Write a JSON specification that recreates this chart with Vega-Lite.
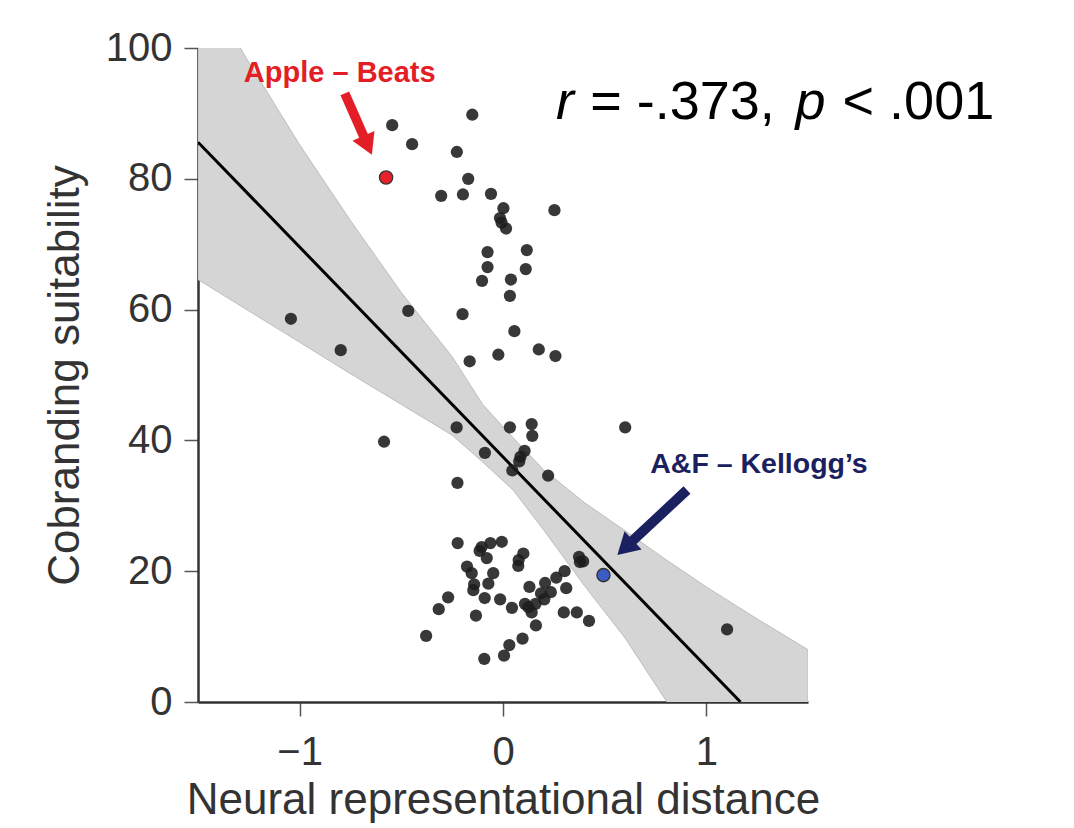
{
  "$schema": "https://vega.github.io/schema/vega-lite/v6.json",
  "width": 610,
  "height": 654,
  "autosize": {"type": "none"},
  "padding": {"left": 198, "top": 48, "right": 266, "bottom": 126},
  "background": "white",
  "config": {
    "view": {"stroke": null},
    "font": "Liberation Sans",
    "axis": {
      "grid": false,
      "domainColor": "#333333",
      "domainWidth": 2.5,
      "tickColor": "#555555",
      "tickWidth": 1.5,
      "tickSize": 14,
      "labelFont": "Liberation Sans",
      "labelFontSize": 40,
      "labelColor": "#333333",
      "labelFlush": false,
      "labelOverlap": false,
      "titleFont": "Liberation Sans",
      "titleFontSize": 44,
      "titleFontWeight": "normal",
      "titleColor": "#333333"
    }
  },
  "datasets": {
    "pts": [
      {"x": -0.151, "y": 89.8}, {"x": -0.545, "y": 88.2}, {"x": -0.447, "y": 85.3}, {"x": -0.227, "y": 84.1},
      {"x": -0.171, "y": 80.0}, {"x": -0.304, "y": 77.4}, {"x": -0.197, "y": 77.6}, {"x": -0.059, "y": 77.7},
      {"x": 0.002, "y": 75.5}, {"x": 0.253, "y": 75.2}, {"x": -0.015, "y": 74.0}, {"x": -0.007, "y": 73.3},
      {"x": 0.015, "y": 72.4}, {"x": -0.076, "y": 68.8}, {"x": 0.117, "y": 69.1}, {"x": -0.076, "y": 66.5},
      {"x": 0.112, "y": 66.2}, {"x": -0.103, "y": 64.4}, {"x": 0.039, "y": 64.6}, {"x": 0.034, "y": 62.1},
      {"x": -1.043, "y": 58.6}, {"x": -0.466, "y": 59.8}, {"x": -0.199, "y": 59.3}, {"x": 0.056, "y": 56.7},
      {"x": -0.798, "y": 53.8}, {"x": -0.164, "y": 52.1}, {"x": -0.023, "y": 53.1}, {"x": 0.176, "y": 53.9},
      {"x": 0.258, "y": 52.9},
      {"x": 0.601, "y": 42.0}, {"x": -0.228, "y": 42.0}, {"x": 0.034, "y": 42.0}, {"x": 0.141, "y": 42.5},
      {"x": 0.144, "y": 40.7}, {"x": -0.585, "y": 39.8}, {"x": -0.089, "y": 38.1}, {"x": 0.106, "y": 38.4},
      {"x": 0.086, "y": 37.5}, {"x": 0.080, "y": 36.8}, {"x": 0.046, "y": 35.4}, {"x": 0.222, "y": 34.6},
      {"x": -0.224, "y": 33.5},
      {"x": -0.223, "y": 24.3}, {"x": -0.105, "y": 23.7}, {"x": -0.115, "y": 23.1}, {"x": -0.062, "y": 24.3},
      {"x": -0.006, "y": 24.5}, {"x": -0.080, "y": 22.0}, {"x": 0.100, "y": 22.7}, {"x": 0.077, "y": 21.7},
      {"x": 0.075, "y": 20.8}, {"x": 0.374, "y": 22.2}, {"x": 0.394, "y": 21.5}, {"x": 0.378, "y": 21.4},
      {"x": -0.177, "y": 20.7}, {"x": -0.154, "y": 19.7}, {"x": -0.048, "y": 19.7}, {"x": -0.072, "y": 18.1},
      {"x": -0.142, "y": 18.0}, {"x": -0.146, "y": 17.1}, {"x": 0.303, "y": 20.0}, {"x": 0.262, "y": 19.0},
      {"x": 0.207, "y": 18.2}, {"x": 0.130, "y": 17.6}, {"x": 0.311, "y": 17.4}, {"x": 0.235, "y": 16.8},
      {"x": 0.187, "y": 16.6}, {"x": 0.203, "y": 15.7}, {"x": -0.270, "y": 16.0}, {"x": -0.090, "y": 15.9},
      {"x": -0.014, "y": 15.7}, {"x": 0.044, "y": 14.4}, {"x": 0.108, "y": 15.0}, {"x": 0.125, "y": 14.5},
      {"x": 0.160, "y": 15.0}, {"x": 0.141, "y": 13.7}, {"x": -0.316, "y": 14.2}, {"x": -0.133, "y": 13.2},
      {"x": 0.299, "y": 13.7}, {"x": 0.363, "y": 13.7}, {"x": 0.423, "y": 12.4}, {"x": 0.162, "y": 11.7},
      {"x": -0.378, "y": 10.1}, {"x": 0.096, "y": 9.7}, {"x": 0.031, "y": 8.7}, {"x": 0.005, "y": 7.1},
      {"x": -0.092, "y": 6.6}, {"x": 1.102, "y": 11.1}
    ],
    "hl": [
      {"x": -0.575, "y": 80.2, "pair": "Apple – Beats"},
      {"x": 0.494, "y": 19.4, "pair": "A&F – Kellogg’s"}
    ],
    "band": [
      {"x": -1.5, "y": 64.6, "y2": 111.0},
      {"x": -1.25, "y": 59.8, "y2": 97.8},
      {"x": -1.0, "y": 55.0, "y2": 85.2},
      {"x": -0.75, "y": 50.2, "y2": 73.6},
      {"x": -0.5, "y": 45.5, "y2": 62.6},
      {"x": -0.25, "y": 40.8, "y2": 52.8},
      {"x": -0.1, "y": 36.7, "y2": 45.5},
      {"x": 0.05, "y": 32.4, "y2": 40.4},
      {"x": 0.2, "y": 26.3, "y2": 35.5},
      {"x": 0.4, "y": 17.8, "y2": 30.5},
      {"x": 0.6, "y": 9.8, "y2": 26.2},
      {"x": 0.8, "y": 0.3, "y2": 21.8},
      {"x": 1.0, "y": -9.0, "y2": 17.6},
      {"x": 1.25, "y": -21.0, "y2": 12.7},
      {"x": 1.5, "y": -33.0, "y2": 8.0}
    ],
    "fit": [
      {"x": -1.5, "y": 85.6},
      {"x": 1.168, "y": 0.0}
    ],
    "arrows": [
      {"x": -0.778, "y": 93.07, "x2": -0.6655, "y2": 85.12, "c": "red", "angle": 156.2, "hx": -0.6655, "hy": 85.12},
      {"x": 0.9049, "y": 32.42, "x2": 0.601, "y2": 23.59, "c": "navy", "angle": 226.8, "hx": 0.601, "hy": 23.59}
    ],
    "labels": [
      {"x": -0.803, "y": 94.85, "text": "Apple – Beats", "c": "red"},
      {"x": 0.724, "y": 34.97, "text": "A&F – Kellogg’s", "c": "navy"}
    ],
    "stats": [
      {"x": 0.261, "y": 89.1, "text": "r", "it": 1},
      {"x": 0.429, "y": 89.1, "text": "= -.373,", "it": 0},
      {"x": 1.438, "y": 89.1, "text": "p", "it": 1},
      {"x": 1.670, "y": 89.1, "text": "< .001", "it": 0}
    ]
  },
  "encoding": {
    "x": {
      "field": "x",
      "type": "quantitative",
      "scale": {"domain": [-1.5, 1.5], "nice": false, "zero": false},
      "axis": {"title": "Neural representational distance", "values": [-1, 0, 1], "labelPadding": 16, "titlePadding": 6}
    },
    "y": {
      "field": "y",
      "type": "quantitative",
      "scale": {"domain": [0, 100], "nice": false, "zero": false},
      "axis": {"title": "Cobranding suitability", "values": [0, 20, 40, 60, 80, 100], "labelPadding": 12, "titlePadding": 18}
    }
  },
  "layer": [
    {
      "data": {"name": "band"},
      "mark": {"type": "area", "clip": true, "color": "#d5d5d5", "stroke": "#bdbdbd", "strokeWidth": 1, "opacity": 1},
      "encoding": {"y2": {"field": "y2"}}
    },
    {
      "data": {"name": "fit"},
      "mark": {"type": "line", "clip": true, "color": "#000000", "strokeWidth": 3},
      "encoding": {}
    },
    {
      "data": {"name": "pts"},
      "mark": {"type": "circle", "size": 150, "color": "#1c1c1c", "opacity": 0.88}
    },
    {
      "data": {"name": "hl"},
      "mark": {"type": "point", "shape": "circle", "size": 175, "filled": true, "stroke": "#333333", "strokeWidth": 1.3, "opacity": 1},
      "encoding": {
        "fill": {"field": "pair", "type": "nominal", "scale": {"domain": ["Apple – Beats", "A&F – Kellogg’s"], "range": ["#e8202a", "#3a5cc4"]}, "legend": null}
      }
    },
    {
      "data": {"name": "arrows"},
      "mark": {"type": "rule", "strokeCap": "butt"},
      "encoding": {
        "x2": {"field": "x2"},
        "y2": {"field": "y2"},
        "color": {"field": "c", "type": "nominal", "scale": {"domain": ["red", "navy"], "range": ["#e41e26", "#1b2160"]}, "legend": null},
        "strokeWidth": {"field": "c", "type": "nominal", "scale": {"domain": ["red", "navy"], "range": [9.5, 10]}, "legend": null}
      }
    },
    {
      "data": {"name": "arrows"},
      "mark": {"type": "point", "shape": "triangle-up", "filled": true, "opacity": 1},
      "encoding": {
        "x": {"field": "hx", "type": "quantitative"},
        "y": {"field": "hy", "type": "quantitative"},
        "angle": {"field": "angle", "type": "quantitative", "scale": null},
        "color": {"field": "c", "type": "nominal", "scale": {"domain": ["red", "navy"], "range": ["#e41e26", "#1b2160"]}, "legend": null},
        "size": {"field": "c", "type": "nominal", "scale": {"domain": ["red", "navy"], "range": [576, 620]}, "legend": null}
      }
    },
    {
      "data": {"name": "labels"},
      "transform": [{"filter": "datum.c == 'red'"}],
      "mark": {"type": "text", "font": "Liberation Sans", "fontWeight": "bold", "fontSize": 29, "align": "center", "baseline": "alphabetic", "color": "#e41e26"},
      "encoding": {"text": {"field": "text"}}
    },
    {
      "data": {"name": "labels"},
      "transform": [{"filter": "datum.c == 'navy'"}],
      "mark": {"type": "text", "font": "Liberation Sans", "fontWeight": "bold", "fontSize": 28.5, "align": "left", "baseline": "alphabetic", "color": "#1b2160"},
      "encoding": {"text": {"field": "text"}}
    },
    {
      "data": {"name": "stats"},
      "transform": [{"filter": "datum.it == 1"}],
      "mark": {"type": "text", "font": "Liberation Sans", "fontStyle": "italic", "fontSize": 54, "align": "left", "baseline": "alphabetic", "color": "#000000"},
      "encoding": {"text": {"field": "text"}}
    },
    {
      "data": {"name": "stats"},
      "transform": [{"filter": "datum.it == 0"}],
      "mark": {"type": "text", "font": "Liberation Sans", "fontSize": 54, "align": "left", "baseline": "alphabetic", "color": "#000000"},
      "encoding": {"text": {"field": "text"}}
    }
  ]
}
